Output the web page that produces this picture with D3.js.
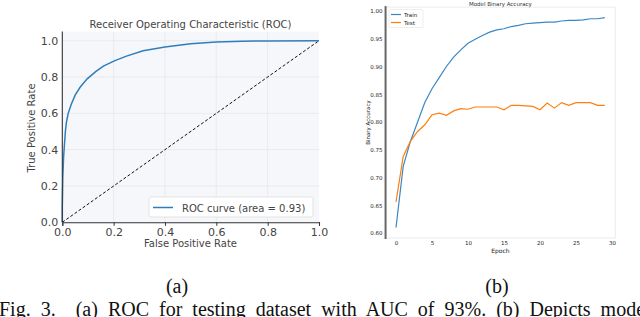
<!DOCTYPE html>
<html>
<head>
<meta charset="utf-8">
<script src="https://cdn.jsdelivr.net/npm/d3@7"></script>
<style>
  html, body { margin: 0; padding: 0; background: #fff; overflow: hidden; }
  svg { display: block; }
</style>
</head>
<body>
<svg id="fig" width="640" height="317"></svg>
<script>
'use strict';

// (a) ROC curve
var rocFpr = [0, 0, 0.002, 0.005, 0.008, 0.012, 0.016, 0.023, 0.035, 0.05, 0.07, 0.097, 0.13, 0.16, 0.205, 0.25, 0.315, 0.4, 0.5, 0.6, 0.7, 0.8, 1];
var rocTpr = [0, 0.08, 0.25, 0.36, 0.42, 0.5, 0.55, 0.6, 0.65, 0.7, 0.745, 0.79, 0.83, 0.86, 0.89, 0.915, 0.945, 0.965, 0.983, 0.993, 0.997, 0.999, 1];
var rocTicks = [0, 0.2, 0.4, 0.6, 0.8, 1.0];

// (b) accuracy per epoch
var epochs = [0, 1, 2, 3, 4, 5, 6, 7, 8, 9, 10, 11, 12, 13, 14, 15, 16, 17, 18, 19, 20, 21, 22, 23, 24, 25, 26, 27, 28, 29];
var trainAcc = [0.61, 0.72, 0.765, 0.80, 0.835, 0.86, 0.88, 0.90, 0.917, 0.93, 0.942, 0.949, 0.956, 0.962, 0.966,
                0.968, 0.972, 0.974, 0.977, 0.978, 0.979, 0.98, 0.98, 0.982, 0.983, 0.983, 0.984, 0.986, 0.986, 0.988];
var testAcc = [0.656, 0.738, 0.765, 0.783, 0.795, 0.813, 0.816, 0.812, 0.82, 0.824, 0.823, 0.827, 0.827, 0.827, 0.827,
               0.822, 0.83, 0.83, 0.829, 0.828, 0.822, 0.834, 0.825, 0.835, 0.83, 0.835, 0.835, 0.835, 0.83, 0.83];
var accYTicks = [0.60, 0.65, 0.70, 0.75, 0.80, 0.85, 0.90, 0.95, 1.00];
var accXTicks = [0, 5, 10, 15, 20, 25, 30];

var svg = d3.select('#fig');
var sans = 'DejaVu Sans, sans-serif';

// ---------- (a) ROC ----------
var xa = d3.scaleLinear().domain([0, 1]).range([62.3, 319]),
    ya = d3.scaleLinear().domain([0, 1]).range([222.3, 40.7]);
var ga = svg.append('g');

ga.append('rect')
    .attr('x', xa(0)).attr('y', ya(1.05))
    .attr('width', xa(1) - xa(0)).attr('height', ya(0) - ya(1.05))
    .attr('fill', '#f5f7fa');

ga.selectAll('line.gx').data(rocTicks.slice(1, 5)).enter().append('line')
    .attr('x1', function(d){ return xa(d); }).attr('x2', function(d){ return xa(d); })
    .attr('y1', ya(1.05)).attr('y2', ya(0))
    .attr('stroke', '#e4e7eb').attr('stroke-width', 0.8);
ga.selectAll('line.gy').data(rocTicks.slice(1)).enter().append('line')
    .attr('x1', xa(0)).attr('x2', xa(1))
    .attr('y1', function(d){ return ya(d); }).attr('y2', function(d){ return ya(d); })
    .attr('stroke', '#e4e7eb').attr('stroke-width', 0.8);

// diagonal
ga.append('path')
    .attr('d', d3.line().x(function(d){ return xa(d); }).y(function(d){ return ya(d); })([0, 1]))
    .attr('stroke', '#111').attr('stroke-width', 1).attr('stroke-dasharray', '3,2').attr('fill', 'none');

ga.append('path')
    .attr('d', d3.line()
        .x(function(d, i){ return xa(rocFpr[i]); })
        .y(function(d){ return ya(d); })(rocTpr))
    .attr('stroke', '#2f7ebc').attr('stroke-width', 1.5).attr('fill', 'none');

var axA = ga.append('g').attr('transform', 'translate(0,' + ya(0) + ')')
    .call(d3.axisBottom(xa).tickValues(rocTicks).tickFormat(d3.format('.1f')).tickSize(3.5).tickPadding(2));
var ayA = ga.append('g').attr('transform', 'translate(' + xa(0) + ',0)')
    .call(d3.axisLeft(ya).tickValues(rocTicks).tickFormat(d3.format('.1f')).tickSize(0).tickPadding(4));
[axA, ayA].forEach(function(ax){
    ax.select('.domain').attr('stroke', '#333').attr('stroke-width', 1.1);
    ax.selectAll('line').attr('stroke', '#333');
    ax.selectAll('text').attr('font-family', sans).attr('font-size', 11).attr('fill', '#444');
});
ayA.select('.domain').attr('d', 'M0,' + ya(1.05) + 'V' + ya(0));

ga.append('text').attr('x', 190.5).attr('y', 28).attr('text-anchor', 'middle')
    .attr('font-family', sans).attr('font-size', 10).attr('fill', '#444')
    .text('Receiver Operating Characteristic (ROC)');
ga.append('text').attr('x', 190.5).attr('y', 247).attr('text-anchor', 'middle')
    .attr('font-family', sans).attr('font-size', 10).attr('fill', '#444')
    .text('False Positive Rate');
ga.append('text').attr('transform', 'translate(35,128) rotate(-90)').attr('text-anchor', 'middle')
    .attr('font-family', sans).attr('font-size', 10).attr('fill', '#444')
    .text('True Positive Rate');

// legend
var lgA = ga.append('g');
lgA.append('rect').attr('x', 149).attr('y', 197).attr('width', 164).attr('height', 20).attr('rx', 2)
    .attr('fill', '#fff').attr('stroke', '#ddd').attr('stroke-width', 0.8);
lgA.append('line').attr('x1', 153).attr('x2', 173).attr('y1', 207.5).attr('y2', 207.5)
    .attr('stroke', '#2f7ebc').attr('stroke-width', 1.5);
lgA.append('text').attr('x', 182).attr('y', 211.5)
    .attr('font-family', sans).attr('font-size', 10).attr('fill', '#444')
    .text('ROC curve (area = 0.93)');

// ---------- (b) accuracy ----------
var xb = d3.scaleLinear().domain([0, 30]).range([396, 612]),
    yb = d3.scaleLinear().domain([0.60, 1.00]).range([233, 11]);
var gb = svg.append('g');
var bx0 = xb(-1.45), bx1 = xb(30.45), by0 = yb(1.007), by1 = yb(0.591);

gb.append('rect').attr('x', bx0).attr('y', by0).attr('width', bx1 - bx0).attr('height', by1 - by0)
    .attr('fill', '#fff').attr('stroke', '#e6e6e6').attr('stroke-width', 0.8);
gb.append('line').attr('x1', bx0).attr('x2', bx0).attr('y1', by0 - 1).attr('y2', by1 + 1)
    .attr('stroke', '#666').attr('stroke-width', 2);

var lineB = d3.line()
    .x(function(d, i){ return xb(epochs[i]); })
    .y(function(d){ return yb(d); });
gb.append('path').attr('d', lineB(trainAcc))
    .attr('stroke', '#3b87c4').attr('stroke-width', 1.2).attr('fill', 'none');
gb.append('path').attr('d', lineB(testAcc))
    .attr('stroke', '#ff7f0e').attr('stroke-width', 1.2).attr('fill', 'none');

var axB = gb.append('g').attr('transform', 'translate(0,' + by1 + ')')
    .call(d3.axisBottom(xb).tickValues(accXTicks).tickSize(0).tickPadding(3));
var ayB = gb.append('g').attr('transform', 'translate(' + bx0 + ',0)')
    .call(d3.axisLeft(yb).tickValues(accYTicks).tickFormat(d3.format('.2f')).tickSize(0).tickPadding(3));
[axB, ayB].forEach(function(ax){
    ax.select('.domain').remove();
    ax.selectAll('text').attr('font-family', sans).attr('font-size', 5.5).attr('fill', '#222');
});

gb.append('text').attr('x', (bx0 + bx1) / 2).attr('y', 5.5).attr('text-anchor', 'middle')
    .attr('font-family', sans).attr('font-size', 5.5).attr('fill', '#333')
    .text('Model Binary Accuracy');
gb.append('text').attr('x', (bx0 + bx1) / 2).attr('y', 253).attr('text-anchor', 'middle')
    .attr('font-family', sans).attr('font-size', 6).attr('fill', '#222')
    .text('Epoch');
gb.append('text').attr('transform', 'translate(370,' + ((by0 + by1) / 2) + ') rotate(-90)').attr('text-anchor', 'middle')
    .attr('font-family', sans).attr('font-size', 5.5).attr('fill', '#222')
    .text('Binary Accuracy');

var lgB = gb.append('g');
lgB.append('rect').attr('x', 389).attr('y', 9.5).attr('width', 34).attr('height', 18).attr('rx', 1.5)
    .attr('fill', '#fff').attr('stroke', '#e2e2e2').attr('stroke-width', 0.6);
[['Train', '#3b87c4', 14.5], ['Test', '#ff7f0e', 22.5]].forEach(function(it){
    lgB.append('line').attr('x1', 391).attr('x2', 401).attr('y1', it[2]).attr('y2', it[2])
        .attr('stroke', it[1]).attr('stroke-width', 1.2);
    lgB.append('text').attr('x', 404).attr('y', it[2] + 2)
        .attr('font-family', sans).attr('font-size', 5.5).attr('fill', '#222').text(it[0]);
});

// ---------- captions ----------
var serif = 'Liberation Serif, Times New Roman, serif';
svg.append('text').attr('x', 177).attr('y', 293).attr('text-anchor', 'middle')
    .attr('font-family', serif).attr('font-size', 20).attr('fill', '#111').text('(a)');
svg.append('text').attr('x', 497).attr('y', 293).attr('text-anchor', 'middle')
    .attr('font-family', serif).attr('font-size', 20).attr('fill', '#111').text('(b)');
// justified caption line, clipped by the figure edge like the source
svg.append('text').attr('x', -1).attr('y', 316).attr('xml:space', 'preserve')
    .attr('word-spacing', 5)
    .attr('font-family', serif).attr('font-size', 20).attr('fill', '#111')
    .text('Fig. 3.  (a) ROC for testing dataset with AUC of 93%. (b) Depicts model');
</script>
</body>
</html>
